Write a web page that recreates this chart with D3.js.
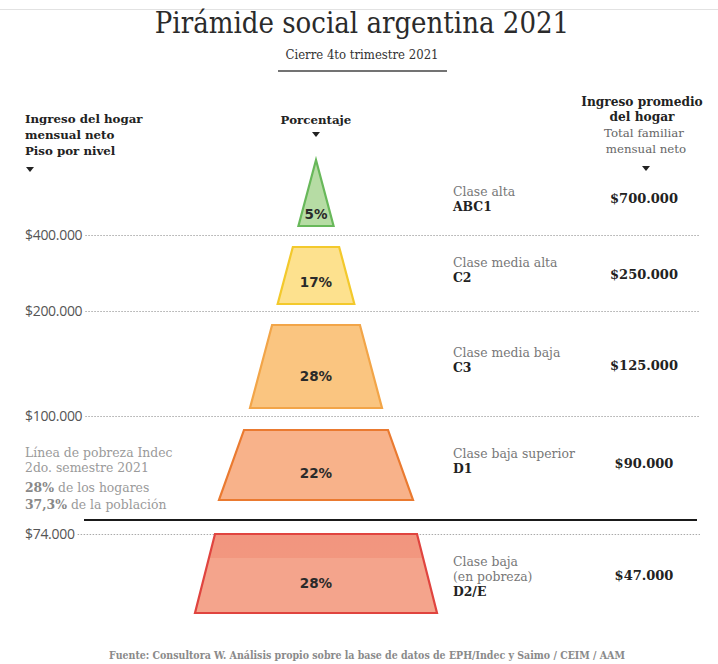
<!DOCTYPE html>
<html>
<head>
<meta charset="utf-8">
<script src="https://cdn.jsdelivr.net/npm/d3@7"></script>
<style>
  html, body { margin: 0; padding: 0; background: #fff; }
  svg { display: block; }
</style>
</head>
<body>
<div id="chart"></div>
<script>
// Pirámide social argentina 2021 – datos
const classNames = [['Clase alta'], ['Clase media alta'], ['Clase media baja'], ['Clase baja superior'], ['Clase baja', '(en pobreza)']];
const classCodes = ['ABC1', 'C2', 'C3', 'D1', 'D2/E'];
const shares = [5, 17, 28, 22, 28];
const avgIncome = [700000, 250000, 125000, 90000, 47000];
const floorIncome = [400000, 200000, 100000, 74000];
const povertyLines = ['Línea de pobreza Indec', '2do. semestre 2021'];
const povertyStats = [['28%', ' de los hogares'], ['37,3%', ' de la población']];

// estilos por nivel
const FILLS = ['#b6dca4', '#fde18e', '#fac580', '#f8b28a', '#f4a48c'];
const STROKES = ['#68b85a', '#f3c92c', '#f2a548', '#ea7a30', '#e0443f'];

// layout
const W = 718, H = 664;
const CX = 316;
const TIERS = [[160, 226], [247, 304], [325, 408], [430, 500], [534, 613]];
const FLOOR_Y = [235, 311, 416, 534];
const POVERTY_Y = 520;
const NAME_Y = [196, 267, 357, 458, 566];
const VALUE_Y = [203, 279, 370, 468, 580];

const serif = '"DejaVu Serif Condensed", "DejaVu Serif", serif';
const serifWide = '"DejaVu Serif", serif';

const es = d3.formatLocale({ decimal: ',', thousands: '.', grouping: [3], currency: ['$', ''] });
const money = es.format('$,');

const svg = d3.select('#chart').append('svg')
  .attr('width', W).attr('height', H)
  .attr('viewBox', `0 0 ${W} ${H}`);

// silueta de la pirámide: media anchura según y
const half = d3.scaleLinear()
  .domain([160, 408, 430, 500, 534, 613])
  .range([0, 66, 72, 97, 101, 121]);

// linea superior
svg.append('line').attr('x1', 0).attr('x2', W).attr('y1', 9.5).attr('y2', 9.5)
  .attr('stroke', '#e2e2e2').attr('stroke-width', 1);

// titulo
svg.append('text')
  .attr('x', 362).attr('y', 33)
  .attr('text-anchor', 'middle')
  .attr('font-family', serif)
  .attr('font-size', 29)
  .attr('fill', '#2b2b2b')
  .text('Pirámide social argentina 2021');

svg.append('text')
  .attr('x', 362).attr('y', 59)
  .attr('text-anchor', 'middle')
  .attr('font-family', serif)
  .attr('font-size', 13)
  .attr('fill', '#333')
  .text('Cierre 4to trimestre 2021');

svg.append('line').attr('x1', 278).attr('x2', 447).attr('y1', 71).attr('y2', 71)
  .attr('stroke', '#444').attr('stroke-width', 1.5);

// encabezados
const arrow = (x, y) => svg.append('path')
  .attr('d', `M${x - 4},${y - 2}L${x + 4},${y - 2}L${x},${y + 3}Z`)
  .attr('fill', '#222');

const leftHead = svg.append('text')
  .attr('font-family', serifWide).attr('font-weight', 'bold')
  .attr('font-size', 11.8).attr('fill', '#222');
['Ingreso del hogar', 'mensual neto', 'Piso por nivel'].forEach((t, i) => {
  leftHead.append('tspan').attr('x', 25).attr('y', 123 + i * 16).text(t);
});
arrow(30, 169);

svg.append('text')
  .attr('x', 316).attr('y', 124)
  .attr('text-anchor', 'middle')
  .attr('font-family', serifWide).attr('font-weight', 'bold')
  .attr('font-size', 11.8).attr('fill', '#222')
  .text('Porcentaje');
arrow(316, 134);

const rightHead = svg.append('text')
  .attr('text-anchor', 'middle')
  .attr('font-family', serifWide);
rightHead.append('tspan').attr('x', 642).attr('y', 106).attr('font-size', 12.2).attr('font-weight', 'bold').attr('fill', '#222').text('Ingreso promedio');
rightHead.append('tspan').attr('x', 642).attr('y', 121).attr('font-size', 12.2).attr('font-weight', 'bold').attr('fill', '#222').text('del hogar');
rightHead.append('tspan').attr('x', 644).attr('y', 137).attr('font-size', 11.8).attr('fill', '#666').text('Total familiar');
rightHead.append('tspan').attr('x', 646).attr('y', 153).attr('font-size', 11.8).attr('fill', '#666').text('mensual neto');
arrow(646, 168);

// lineas de piso
const floors = svg.append('g').attr('class', 'floors');
floors.selectAll('text')
  .data(floorIncome)
  .join('text')
  .attr('x', 25)
  .attr('y', (d, i) => FLOOR_Y[i] + 4.5)
  .attr('font-family', '"Open Sans", sans-serif')
  .attr('font-size', 14)
  .attr('letter-spacing', -0.3)
  .attr('fill', '#555')
  .text((d) => money(d))
  .each(function (d) { d3.select(this).datum({ v: d, w: this.getComputedTextLength() }); });

floors.selectAll('line')
  .data(floors.selectAll('text').data())
  .join('line')
  .attr('x1', (d) => 25 + d.w + 3)
  .attr('x2', 700)
  .attr('y1', (d, i) => FLOOR_Y[i] + 0.5)
  .attr('y2', (d, i) => FLOOR_Y[i] + 0.5)
  .attr('stroke', '#aaa')
  .attr('stroke-width', 1)
  .attr('stroke-dasharray', '1.5 1.5');

// linea de pobreza
svg.append('line')
  .attr('x1', 84).attr('x2', 697)
  .attr('y1', POVERTY_Y).attr('y2', POVERTY_Y)
  .attr('stroke', '#1a1a1a').attr('stroke-width', 2);

const pov = svg.append('g').attr('font-family', serifWide).attr('font-size', 12.4);
povertyLines.forEach((t, i) => {
  pov.append('text').attr('x', 25).attr('y', 457 + i * 15).attr('fill', '#9a9a9a').text(t);
});
povertyStats.forEach((s, i) => {
  const t = pov.append('text').attr('x', 25).attr('y', 492 + i * 17);
  t.append('tspan').attr('font-weight', 'bold').attr('fill', '#888').text(s[0]);
  t.append('tspan').attr('fill', '#9a9a9a').text(s[1]);
});

// piramide
const tiers = shares.map((v, i) => ({
  share: v, code: classCodes[i], name: classNames[i], income: avgIncome[i],
  top: TIERS[i][0], bottom: TIERS[i][1], i,
}));

const shape = (d) => {
  const ht = half(d.top), hb = half(d.bottom);
  if (d.i === 0) return `M${CX},${d.top}L${CX + hb},${d.bottom}L${CX - hb},${d.bottom}Z`;
  return `M${CX - ht},${d.top}L${CX + ht},${d.top}L${CX + hb},${d.bottom}L${CX - hb},${d.bottom}Z`;
};

const defs = svg.append('defs');
const grad = defs.append('linearGradient').attr('id', 'band').attr('x1', 0).attr('x2', 0).attr('y1', 0).attr('y2', 1);
grad.append('stop').attr('offset', '0%').attr('stop-color', '#f2957f');
grad.append('stop').attr('offset', '30%').attr('stop-color', '#f2977f');
grad.append('stop').attr('offset', '30.5%').attr('stop-color', FILLS[4]);
grad.append('stop').attr('offset', '100%').attr('stop-color', FILLS[4]);

const pyr = svg.append('g').attr('class', 'pyramid');
pyr.selectAll('path')
  .data(tiers)
  .join('path')
  .attr('d', shape)
  .attr('fill', (d) => (d.i === 4 ? 'url(#band)' : FILLS[d.i]))
  .attr('stroke', (d) => STROKES[d.i])
  .attr('stroke-width', 2.2)
  .attr('stroke-linejoin', 'miter');

pyr.selectAll('text')
  .data(tiers)
  .join('text')
  .attr('x', CX)
  .attr('y', (d) => (d.i === 0 ? d.bottom - 7 : d.top + 0.62 * (d.bottom - d.top) + 5))
  .attr('text-anchor', 'middle')
  .attr('font-family', '"DejaVu Sans", sans-serif')
  .attr('font-weight', 'bold')
  .attr('font-size', 13.5)
  .attr('fill', '#2a2a2a')
  .text((d) => `${d.share}%`);

// etiquetas de clase
const labels = svg.append('g').attr('class', 'labels');
tiers.forEach((d) => {
  const t = labels.append('text').attr('font-family', serifWide).attr('font-size', 12.4);
  d.name.forEach((n, j) => {
    t.append('tspan').attr('x', 453).attr('y', NAME_Y[d.i] + j * 15).attr('fill', '#777').text(n);
  });
  t.append('tspan').attr('x', 453).attr('y', NAME_Y[d.i] + d.name.length * 15)
    .attr('font-weight', 'bold').attr('fill', '#222').text(d.code);

  labels.append('text')
    .attr('x', 644).attr('y', VALUE_Y[d.i])
    .attr('text-anchor', 'middle')
    .attr('font-family', serifWide)
    .attr('font-weight', 'bold')
    .attr('font-size', 13)
    .attr('fill', '#222')
    .text(money(d.income));
});

// fuente
svg.append('text')
  .attr('x', 367).attr('y', 659)
  .attr('text-anchor', 'middle')
  .attr('font-family', serif)
  .attr('font-weight', 'bold')
  .attr('font-size', 10.5)
  .attr('fill', '#8a8a8a')
  .text('Fuente: Consultora W. Análisis propio sobre la base de datos de EPH/Indec y Saimo / CEIM / AAM');
</script>
</body>
</html>
